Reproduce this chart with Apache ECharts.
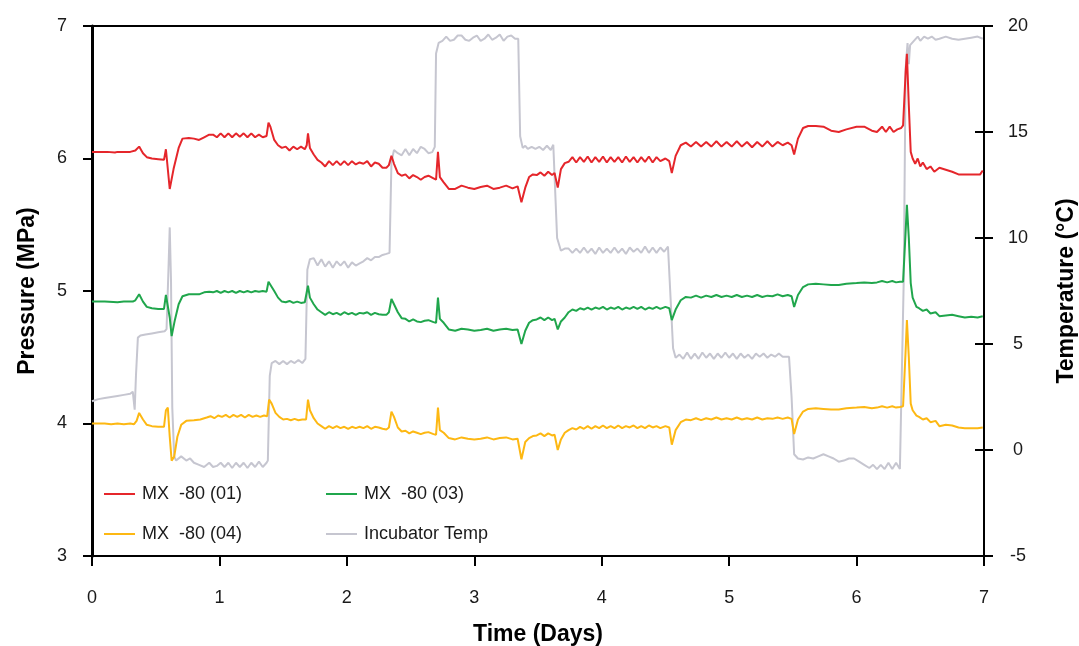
<!DOCTYPE html>
<html>
<head>
<meta charset="utf-8">
<script src="https://cdn.jsdelivr.net/npm/echarts@6/dist/echarts.min.js"></script>
<style>html,body{margin:0;padding:0;background:#fff;overflow:hidden}#c{width:1079px;height:646px}</style>
</head>
<body>
<div id="c"></div>
<script>
// ---- tick labels / axes ----
const xTicks = [0, 1, 2, 3, 4, 5, 6, 7];
const pressureRange = [3, 7];
const tempRange = [-5, 20];

// ---- series names ----
const names = ['MX  -80 (01)', 'MX  -80 (03)', 'MX  -80 (04)', 'Incubator Temp'];

// ---- MX-80 (01) pressure, MPa : [day, value] ----
const mx01 = [[0,6.05],[0.12,6.05],[0.18,6.045],[0.2,6.05],[0.24,6.05],[0.3,6.05],[0.34,6.06],[0.37,6.09],[0.40,6.04],[0.43,6.01],[0.47,6.0],[0.52,5.995],[0.565,5.99],[0.58,6.07],[0.595,6.08],[0.61,5.77],[0.64,5.92],[0.68,6.08],[0.71,6.15],[0.76,6.155],[0.8,6.15],[0.84,6.14],[0.88,6.16],[0.92,6.18],[0.95,6.18],[0.98,6.16],[1.01,6.19],[1.04,6.16],[1.07,6.19],[1.1,6.16],[1.13,6.19],[1.16,6.165],[1.19,6.19],[1.22,6.16],[1.25,6.19],[1.28,6.16],[1.31,6.18],[1.34,6.16],[1.37,6.17],[1.385,6.27],[1.40,6.24],[1.43,6.14],[1.46,6.10],[1.49,6.08],[1.52,6.09],[1.55,6.06],[1.58,6.09],[1.61,6.07],[1.64,6.09],[1.67,6.07],[1.685,6.1],[1.695,6.19],[1.71,6.08],[1.74,6.03],[1.77,5.99],[1.8,5.97],[1.83,5.94],[1.86,5.98],[1.89,5.95],[1.92,5.98],[1.95,5.95],[1.98,5.98],[2.01,5.95],[2.04,5.98],[2.07,5.955],[2.1,5.97],[2.13,5.96],[2.16,5.98],[2.19,5.94],[2.22,5.97],[2.25,5.96],[2.28,5.93],[2.31,5.93],[2.33,5.95],[2.35,6.02],[2.37,5.96],[2.40,5.89],[2.43,5.87],[2.46,5.88],[2.49,5.85],[2.52,5.875],[2.55,5.86],[2.58,5.84],[2.61,5.86],[2.64,5.87],[2.68,5.85],[2.70,5.84],[2.715,6.05],[2.73,5.86],[2.76,5.82],[2.80,5.77],[2.85,5.77],[2.9,5.795],[2.95,5.78],[3.0,5.77],[3.05,5.785],[3.1,5.795],[3.15,5.77],[3.2,5.78],[3.25,5.795],[3.3,5.775],[3.34,5.79],[3.37,5.67],[3.40,5.78],[3.43,5.86],[3.46,5.88],[3.49,5.875],[3.52,5.895],[3.55,5.87],[3.58,5.9],[3.61,5.875],[3.63,5.89],[3.655,5.78],[3.68,5.92],[3.71,5.965],[3.74,5.975],[3.77,6.01],[3.80,5.97],[3.83,6.01],[3.86,5.975],[3.89,6.015],[3.92,5.97],[3.95,6.01],[3.98,5.975],[4.01,6.015],[4.04,5.97],[4.07,6.01],[4.10,5.975],[4.13,6.01],[4.16,5.97],[4.19,6.015],[4.22,5.975],[4.25,6.01],[4.28,5.97],[4.31,6.01],[4.34,5.975],[4.37,6.015],[4.40,5.97],[4.43,6.01],[4.46,5.98],[4.50,6.0],[4.53,5.98],[4.55,5.89],[4.58,6.02],[4.62,6.1],[4.66,6.12],[4.70,6.09],[4.74,6.125],[4.78,6.09],[4.82,6.125],[4.86,6.09],[4.9,6.13],[4.94,6.09],[4.98,6.125],[5.02,6.09],[5.06,6.13],[5.1,6.09],[5.14,6.125],[5.18,6.085],[5.22,6.125],[5.26,6.09],[5.3,6.13],[5.34,6.09],[5.38,6.125],[5.42,6.1],[5.46,6.12],[5.49,6.1],[5.51,6.03],[5.54,6.15],[5.58,6.23],[5.62,6.245],[5.68,6.245],[5.74,6.24],[5.8,6.21],[5.86,6.2],[5.92,6.22],[6.0,6.24],[6.06,6.24],[6.12,6.21],[6.16,6.2],[6.2,6.24],[6.23,6.2],[6.26,6.24],[6.29,6.2],[6.32,6.22],[6.35,6.23],[6.365,6.25],[6.385,6.65],[6.395,6.79],[6.41,6.4],[6.425,6.05],[6.44,6.0],[6.46,5.96],[6.48,6.0],[6.5,5.94],[6.52,5.97],[6.55,5.92],[6.58,5.94],[6.61,5.9],[6.65,5.93],[6.7,5.915],[6.75,5.9],[6.8,5.88],[6.85,5.88],[6.9,5.88],[6.95,5.88],[6.97,5.88],[6.99,5.91]];

// ---- MX-80 (03) pressure, MPa ----
const mx03 = [[0,4.92],[0.1,4.92],[0.2,4.915],[0.25,4.92],[0.32,4.92],[0.34,4.93],[0.37,4.975],[0.40,4.92],[0.43,4.88],[0.47,4.87],[0.52,4.865],[0.565,4.865],[0.58,4.97],[0.595,4.985],[0.61,4.8],[0.625,4.66],[0.65,4.78],[0.68,4.9],[0.71,4.96],[0.76,4.975],[0.8,4.975],[0.84,4.975],[0.88,4.99],[0.92,4.995],[0.95,4.99],[0.98,5.0],[1.01,4.985],[1.04,5.0],[1.07,4.99],[1.1,5.0],[1.13,4.985],[1.16,5.0],[1.19,4.99],[1.22,5.0],[1.25,4.99],[1.28,5.0],[1.31,4.995],[1.34,5.0],[1.37,4.995],[1.385,5.07],[1.40,5.06],[1.43,5.0],[1.46,4.95],[1.49,4.92],[1.52,4.915],[1.55,4.925],[1.58,4.91],[1.61,4.92],[1.64,4.91],[1.67,4.915],[1.685,4.93],[1.695,5.04],[1.71,4.95],[1.74,4.9],[1.77,4.86],[1.8,4.84],[1.83,4.82],[1.86,4.84],[1.89,4.825],[1.92,4.835],[1.95,4.82],[1.98,4.84],[2.01,4.825],[2.04,4.835],[2.07,4.82],[2.1,4.835],[2.13,4.83],[2.16,4.84],[2.19,4.82],[2.22,4.835],[2.25,4.825],[2.28,4.82],[2.31,4.82],[2.33,4.84],[2.35,4.94],[2.37,4.9],[2.40,4.84],[2.43,4.795],[2.46,4.79],[2.49,4.77],[2.52,4.785],[2.55,4.77],[2.58,4.765],[2.61,4.775],[2.64,4.78],[2.68,4.765],[2.70,4.76],[2.715,4.95],[2.73,4.79],[2.76,4.76],[2.80,4.71],[2.85,4.7],[2.9,4.715],[2.95,4.71],[3.0,4.7],[3.05,4.705],[3.1,4.715],[3.15,4.7],[3.2,4.71],[3.25,4.715],[3.3,4.705],[3.34,4.71],[3.37,4.6],[3.40,4.7],[3.43,4.76],[3.46,4.78],[3.49,4.785],[3.52,4.8],[3.55,4.78],[3.58,4.8],[3.61,4.78],[3.63,4.79],[3.655,4.71],[3.68,4.77],[3.71,4.8],[3.74,4.84],[3.77,4.86],[3.80,4.85],[3.83,4.87],[3.86,4.86],[3.89,4.875],[3.92,4.86],[3.95,4.875],[3.98,4.865],[4.01,4.88],[4.04,4.86],[4.07,4.875],[4.10,4.865],[4.13,4.88],[4.16,4.86],[4.19,4.875],[4.22,4.865],[4.25,4.88],[4.28,4.865],[4.31,4.88],[4.34,4.86],[4.37,4.875],[4.40,4.865],[4.43,4.88],[4.46,4.865],[4.50,4.88],[4.53,4.87],[4.55,4.78],[4.58,4.86],[4.62,4.93],[4.66,4.955],[4.70,4.95],[4.74,4.965],[4.78,4.95],[4.82,4.965],[4.86,4.955],[4.9,4.97],[4.94,4.955],[4.98,4.965],[5.02,4.955],[5.06,4.97],[5.1,4.955],[5.14,4.965],[5.18,4.955],[5.22,4.97],[5.26,4.955],[5.3,4.965],[5.34,4.96],[5.38,4.975],[5.42,4.96],[5.46,4.97],[5.49,4.96],[5.51,4.88],[5.54,4.97],[5.58,5.03],[5.62,5.05],[5.68,5.055],[5.74,5.05],[5.8,5.045],[5.86,5.045],[5.92,5.055],[6.0,5.06],[6.06,5.065],[6.12,5.06],[6.16,5.065],[6.2,5.075],[6.24,5.065],[6.28,5.075],[6.31,5.065],[6.34,5.07],[6.365,5.07],[6.385,5.45],[6.395,5.65],[6.41,5.4],[6.425,5.06],[6.44,4.95],[6.47,4.88],[6.49,4.87],[6.5,4.88],[6.52,4.85],[6.55,4.86],[6.58,4.83],[6.62,4.84],[6.65,4.81],[6.7,4.815],[6.75,4.82],[6.8,4.81],[6.85,4.8],[6.9,4.805],[6.95,4.8],[6.99,4.81]];

// ---- MX-80 (04) pressure, MPa ----
const mx04 = [[0,4.0],[0.1,4.0],[0.15,3.995],[0.2,4.0],[0.25,3.995],[0.3,4.0],[0.33,3.995],[0.35,4.02],[0.37,4.08],[0.40,4.03],[0.43,3.99],[0.47,3.98],[0.52,3.975],[0.565,3.975],[0.58,4.1],[0.595,4.12],[0.61,3.9],[0.625,3.72],[0.645,3.75],[0.67,3.9],[0.70,3.99],[0.74,4.02],[0.8,4.025],[0.85,4.03],[0.9,4.045],[0.93,4.055],[0.96,4.04],[0.99,4.06],[1.02,4.05],[1.05,4.065],[1.08,4.045],[1.11,4.065],[1.14,4.05],[1.17,4.065],[1.2,4.045],[1.23,4.065],[1.26,4.05],[1.29,4.06],[1.32,4.05],[1.35,4.06],[1.375,4.055],[1.39,4.18],[1.41,4.15],[1.44,4.08],[1.47,4.05],[1.5,4.03],[1.53,4.035],[1.56,4.025],[1.59,4.035],[1.62,4.025],[1.65,4.03],[1.68,4.03],[1.695,4.18],[1.71,4.1],[1.74,4.04],[1.77,4.0],[1.8,3.98],[1.83,3.96],[1.86,3.98],[1.89,3.965],[1.92,3.98],[1.95,3.965],[1.98,3.975],[2.01,3.96],[2.04,3.975],[2.07,3.965],[2.1,3.975],[2.13,3.965],[2.16,3.98],[2.19,3.96],[2.22,3.975],[2.25,3.97],[2.28,3.96],[2.31,3.955],[2.33,3.97],[2.35,4.09],[2.37,4.05],[2.4,3.97],[2.43,3.94],[2.46,3.945],[2.49,3.925],[2.52,3.94],[2.55,3.93],[2.58,3.92],[2.61,3.93],[2.64,3.935],[2.68,3.92],[2.70,3.915],[2.715,4.12],[2.73,3.95],[2.76,3.93],[2.8,3.89],[2.85,3.88],[2.9,3.895],[2.95,3.885],[3.0,3.88],[3.05,3.885],[3.1,3.895],[3.15,3.88],[3.2,3.89],[3.25,3.895],[3.3,3.88],[3.34,3.885],[3.37,3.73],[3.4,3.86],[3.43,3.89],[3.46,3.905],[3.49,3.91],[3.52,3.925],[3.55,3.905],[3.58,3.925],[3.61,3.91],[3.63,3.915],[3.655,3.8],[3.68,3.88],[3.71,3.93],[3.74,3.95],[3.77,3.965],[3.80,3.955],[3.83,3.975],[3.86,3.96],[3.89,3.98],[3.92,3.96],[3.95,3.98],[3.98,3.965],[4.01,3.985],[4.04,3.965],[4.07,3.98],[4.10,3.965],[4.13,3.985],[4.16,3.965],[4.19,3.98],[4.22,3.97],[4.25,3.985],[4.28,3.965],[4.31,3.98],[4.34,3.965],[4.37,3.985],[4.40,3.97],[4.43,3.98],[4.46,3.965],[4.50,3.98],[4.53,3.97],[4.55,3.84],[4.58,3.95],[4.62,4.01],[4.66,4.03],[4.70,4.025],[4.74,4.04],[4.78,4.025],[4.82,4.04],[4.86,4.03],[4.9,4.045],[4.94,4.03],[4.98,4.04],[5.02,4.03],[5.06,4.045],[5.1,4.03],[5.14,4.04],[5.18,4.03],[5.22,4.045],[5.26,4.03],[5.3,4.04],[5.34,4.035],[5.38,4.045],[5.42,4.035],[5.46,4.045],[5.49,4.035],[5.51,3.92],[5.54,4.03],[5.58,4.09],[5.62,4.11],[5.68,4.115],[5.74,4.11],[5.8,4.105],[5.86,4.105],[5.92,4.115],[6.0,4.12],[6.06,4.125],[6.12,4.115],[6.16,4.12],[6.2,4.13],[6.24,4.12],[6.28,4.13],[6.31,4.12],[6.34,4.125],[6.365,4.13],[6.385,4.55],[6.395,4.78],[6.41,4.5],[6.425,4.15],[6.44,4.1],[6.47,4.06],[6.49,4.05],[6.5,4.06],[6.52,4.03],[6.55,4.04],[6.58,4.01],[6.62,4.02],[6.65,3.98],[6.7,3.99],[6.75,3.985],[6.8,3.97],[6.85,3.965],[6.9,3.965],[6.95,3.965],[6.99,3.97]];

// ---- Incubator temperature, °C ----
const incTemp = [[0,2.3],[0.05,2.4],[0.1,2.45],[0.15,2.5],[0.2,2.55],[0.25,2.6],[0.3,2.65],[0.32,2.75],[0.335,1.9],[0.345,3.5],[0.36,5.3],[0.38,5.4],[0.42,5.45],[0.47,5.5],[0.52,5.55],[0.57,5.6],[0.585,5.7],[0.6,8.5],[0.61,10.5],[0.62,8.0],[0.63,2.0],[0.645,-0.3],[0.66,-0.5],[0.7,-0.3],[0.74,-0.5],[0.77,-0.4],[0.8,-0.6],[0.84,-0.7],[0.88,-0.8],[0.92,-0.6],[0.95,-0.8],[0.98,-0.75],[1.01,-0.6],[1.04,-0.8],[1.07,-0.6],[1.1,-0.85],[1.13,-0.6],[1.16,-0.8],[1.19,-0.6],[1.22,-0.85],[1.25,-0.6],[1.28,-0.8],[1.31,-0.55],[1.34,-0.8],[1.37,-0.6],[1.38,-0.5],[1.395,3.5],[1.41,4.1],[1.44,4.2],[1.47,4.05],[1.5,4.2],[1.53,4.05],[1.56,4.2],[1.59,4.1],[1.62,4.25],[1.65,4.1],[1.675,4.3],[1.69,8.5],[1.71,9.0],[1.74,9.05],[1.77,8.7],[1.8,9.0],[1.83,8.65],[1.86,8.9],[1.89,8.6],[1.92,8.9],[1.95,8.7],[1.98,8.9],[2.01,8.6],[2.04,8.85],[2.07,8.7],[2.1,8.8],[2.13,8.9],[2.16,9.05],[2.19,8.95],[2.22,9.1],[2.25,9.1],[2.28,9.2],[2.31,9.25],[2.335,9.3],[2.35,13.6],[2.37,14.15],[2.4,14.0],[2.43,13.9],[2.46,14.2],[2.49,13.9],[2.52,14.2],[2.55,14.0],[2.58,14.3],[2.61,14.2],[2.64,14.0],[2.67,14.05],[2.69,14.3],[2.7,18.7],[2.72,19.2],[2.75,19.3],[2.78,19.5],[2.81,19.3],[2.84,19.35],[2.87,19.55],[2.9,19.55],[2.93,19.35],[2.96,19.3],[2.99,19.45],[3.02,19.55],[3.05,19.3],[3.08,19.4],[3.11,19.6],[3.14,19.35],[3.17,19.45],[3.2,19.6],[3.23,19.3],[3.26,19.5],[3.29,19.55],[3.32,19.4],[3.345,19.4],[3.36,14.8],[3.38,14.25],[3.4,14.35],[3.42,14.2],[3.45,14.3],[3.48,14.2],[3.51,14.3],[3.54,14.15],[3.57,14.35],[3.6,14.15],[3.62,14.4],[3.635,14.4],[3.65,10.0],[3.68,9.4],[3.71,9.5],[3.74,9.5],[3.77,9.3],[3.8,9.5],[3.83,9.3],[3.86,9.55],[3.89,9.3],[3.92,9.5],[3.95,9.25],[3.98,9.55],[4.01,9.3],[4.04,9.5],[4.07,9.3],[4.1,9.55],[4.13,9.3],[4.16,9.5],[4.19,9.25],[4.22,9.55],[4.25,9.35],[4.28,9.5],[4.31,9.3],[4.34,9.6],[4.37,9.3],[4.4,9.55],[4.43,9.3],[4.46,9.55],[4.49,9.35],[4.52,9.6],[4.535,9.6],[4.56,4.8],[4.58,4.35],[4.61,4.5],[4.64,4.3],[4.67,4.6],[4.7,4.3],[4.73,4.55],[4.76,4.3],[4.79,4.6],[4.82,4.35],[4.85,4.55],[4.88,4.3],[4.91,4.55],[4.94,4.35],[4.97,4.6],[5.0,4.35],[5.03,4.55],[5.06,4.3],[5.09,4.55],[5.12,4.35],[5.15,4.5],[5.18,4.3],[5.21,4.55],[5.24,4.4],[5.27,4.55],[5.3,4.35],[5.33,4.5],[5.36,4.4],[5.39,4.55],[5.42,4.4],[5.45,4.4],[5.47,4.4],[5.49,2.5],[5.51,-0.2],[5.54,-0.4],[5.58,-0.45],[5.62,-0.35],[5.66,-0.4],[5.7,-0.3],[5.74,-0.2],[5.78,-0.3],[5.82,-0.4],[5.86,-0.55],[5.9,-0.5],[5.94,-0.4],[5.98,-0.4],[6.02,-0.55],[6.06,-0.7],[6.1,-0.85],[6.13,-0.7],[6.16,-0.9],[6.19,-0.7],[6.22,-0.9],[6.25,-0.6],[6.28,-0.9],[6.31,-0.6],[6.34,-0.9],[6.355,-0.9],[6.37,8.0],[6.385,18.0],[6.4,19.2],[6.41,18.2],[6.42,19.1],[6.45,19.3],[6.48,19.5],[6.5,19.3],[6.53,19.5],[6.56,19.4],[6.59,19.5],[6.62,19.35],[6.65,19.4],[6.7,19.5],[6.75,19.4],[6.8,19.35],[6.85,19.4],[6.9,19.45],[6.95,19.5],[6.99,19.4]];

const colors = ['#e5262b', '#20a64c', '#fdb813', '#c6c6d0'];
const FONT = 'Liberation Sans, Arial, sans-serif';
const TXT = '#1a1a1a';

const chart = echarts.init(document.getElementById('c'), null, {renderer: 'canvas'});

const lineStyleBase = {width: 2};
const tickStyle = {color: '#000', width: 2};

function legendAt(name, left, top) {
  return {
    data: [name], left: left, top: top, padding: 0, itemWidth: 31, itemHeight: 2, icon: 'rect',
    textStyle: {fontSize: 18, color: TXT, fontFamily: FONT, padding: [0, 0, 0, 2]},
    selectedMode: false
  };
}

const option = {
  animation: false,
  backgroundColor: '#fff',
  textStyle: {fontFamily: FONT},
  grid: {left: 92, right: 95, top: 26, bottom: 90, containLabel: false, outerBoundsMode: 'none'},
  legend: [
    legendAt(names[0], 104, 485),
    legendAt(names[1], 326, 485),
    legendAt(names[2], 104, 525),
    legendAt(names[3], 326, 525)
  ],
  xAxis: [
    {
      type: 'value', min: xTicks[0], max: xTicks[xTicks.length - 1], interval: 1,
      position: 'bottom',
      name: 'Time (Days)', nameLocation: 'middle', nameGap: 67,
      nameTextStyle: {fontSize: 23, fontWeight: 'bold', color: '#000', fontFamily: FONT},
      axisLine: {show: true, onZero: false, lineStyle: {color: '#000', width: 2}},
      axisTick: {show: true, inside: false, length: 10, lineStyle: tickStyle},
      axisLabel: {fontSize: 18, color: TXT, margin: 33, fontFamily: FONT},
      splitLine: {show: false}
    },
    {
      type: 'value', min: xTicks[0], max: xTicks[xTicks.length - 1], interval: 1,
      position: 'top',
      axisLine: {show: true, onZero: false, lineStyle: {color: '#000', width: 2}},
      axisTick: {show: false}, axisLabel: {show: false}, splitLine: {show: false}
    }
  ],
  yAxis: [
    {
      type: 'value', min: pressureRange[0], max: pressureRange[1], interval: 1, position: 'left',
      name: 'Pressure (MPa)', nameLocation: 'middle', nameGap: 53, nameRotate: 90,
      nameTextStyle: {fontSize: 23, fontWeight: 'bold', color: '#000', fontFamily: FONT},
      axisLine: {show: true, onZero: false, lineStyle: {color: '#000', width: 3}},
      axisTick: {show: true, inside: false, length: 9, lineStyle: tickStyle},
      axisLabel: {fontSize: 18, color: TXT, margin: 25, fontFamily: FONT},
      splitLine: {show: false}
    },
    {
      type: 'value', min: tempRange[0], max: tempRange[1], interval: 5, position: 'right',
      name: 'Temperature (°C)', nameLocation: 'middle', nameGap: 71, nameRotate: 90,
      nameTextStyle: {fontSize: 23, fontWeight: 'bold', color: '#000', fontFamily: FONT},
      axisLine: {show: true, onZero: false, lineStyle: {color: '#000', width: 2}},
      axisTick: {show: true, inside: false, length: 9, lineStyle: tickStyle},
      axisLabel: {fontSize: 18, color: TXT, margin: 34, align: 'center', fontFamily: FONT},
      splitLine: {show: false}
    },
    {
      type: 'value', min: tempRange[0], max: tempRange[1], interval: 5, position: 'right',
      axisLine: {show: false, onZero: false},
      axisTick: {show: true, inside: true, length: 9, lineStyle: tickStyle},
      axisLabel: {show: false}, splitLine: {show: false}
    }
  ],
  series: [
    {name: names[3], type: 'line', yAxisIndex: 1, data: incTemp, showSymbol: false, symbol: 'none',
      lineStyle: Object.assign({}, lineStyleBase, {color: colors[3]}), itemStyle: {color: colors[3]}, z: 1},
    {name: names[0], type: 'line', yAxisIndex: 0, data: mx01, showSymbol: false, symbol: 'none',
      lineStyle: Object.assign({}, lineStyleBase, {color: colors[0]}), itemStyle: {color: colors[0]}, z: 2},
    {name: names[1], type: 'line', yAxisIndex: 0, data: mx03, showSymbol: false, symbol: 'none',
      lineStyle: Object.assign({}, lineStyleBase, {color: colors[1]}), itemStyle: {color: colors[1]}, z: 2},
    {name: names[2], type: 'line', yAxisIndex: 0, data: mx04, showSymbol: false, symbol: 'none',
      lineStyle: Object.assign({}, lineStyleBase, {color: colors[2]}), itemStyle: {color: colors[2]}, z: 2}
  ]
};
chart.setOption(option);
</script>
</body>
</html>
